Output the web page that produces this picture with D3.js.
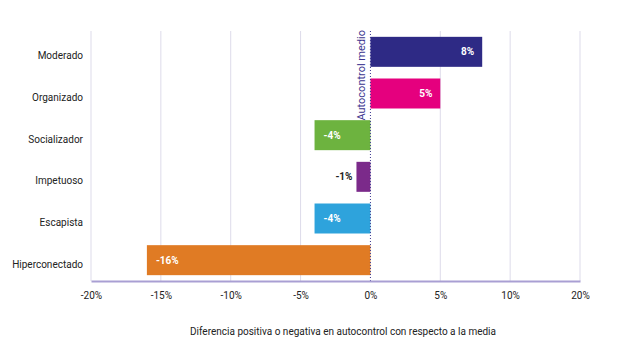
<!DOCTYPE html>
<html>
<head>
<meta charset="utf-8">
<script src="https://cdn.jsdelivr.net/npm/d3@7"></script>
<style>
  body { margin: 0; background: #fff; }
  svg { font-family: Roboto, "Liberation Sans", sans-serif; }
</style>
</head>
<body>
<div id="chart"></div>
<script>
const categories = ["Moderado", "Organizado", "Socializador", "Impetuoso", "Escapista", "Hiperconectado"];
const values = [8, 5, -4, -1, -4, -16];
const barColors = ["#2e2a85", "#e5007e", "#6db33f", "#7b2a8a", "#2ea3dc", "#e07b24"];
// tick positions and the labels printed under them (last label reads 20% in the source)
const tickValues = [-20, -15, -10, -5, 0, 5, 10, 15];
const tickLabels = ["-20%", "-15%", "-10%", "-5%", "0%", "5%", "10%", "20%"];

const width = 633;
const height = 360;

const svg = d3.select("#chart")
  .append("svg")
  .attr("width", width)
  .attr("height", height);

const x = d3.scaleLinear().domain([-20, 15]).range([91, 580]);
const y = d3.scaleBand()
  .domain(categories)
  .range([31, 281])
  .paddingInner(0.28)
  .paddingOuter(0.14);

// vertical grid lines
svg.append("g")
  .selectAll("line")
  .data(tickValues.filter((d) => d !== 0))
  .enter()
  .append("line")
  .attr("x1", (d) => x(d))
  .attr("x2", (d) => x(d))
  .attr("y1", 31)
  .attr("y2", 281)
  .attr("stroke", "#dddbea")
  .attr("stroke-width", 1);

// bars
svg.append("g")
  .selectAll("rect")
  .data(categories)
  .enter()
  .append("rect")
  .attr("x", (d, i) => x(Math.min(0, values[i])))
  .attr("y", (d) => y(d))
  .attr("width", (d, i) => Math.abs(x(values[i]) - x(0)))
  .attr("height", y.bandwidth())
  .attr("fill", (d, i) => barColors[i]);

// value labels
svg.append("g")
  .selectAll("text")
  .data(categories)
  .enter()
  .append("text")
  .attr("x", (d, i) => {
    const v = values[i];
    if (v > 0) return x(v) - 8;
    if (Math.abs(x(v) - x(0)) < 30) return x(v) - 4;
    return x(v) + 9;
  })
  .attr("y", (d) => y(d) + y.bandwidth() / 2)
  .attr("dy", "0.35em")
  .attr("text-anchor", (d, i) => {
    const v = values[i];
    if (v > 0) return "end";
    if (Math.abs(x(v) - x(0)) < 30) return "end";
    return "start";
  })
  .attr("fill", (d, i) => Math.abs(x(values[i]) - x(0)) < 30 ? "#222" : "#fff")
  .style("font-size", "10px")
  .style("font-weight", "bold")
  .text((d, i) => `${values[i]}%`);

// category labels (sit a little below the bar centre in the source)
svg.append("g")
  .selectAll("text")
  .data(categories)
  .enter()
  .append("text")
  .attr("x", 83)
  .attr("y", (d) => y(d) + y.bandwidth() / 2 + 4)
  .attr("dy", "0.35em")
  .attr("text-anchor", "end")
  .attr("fill", "#222")
  .style("font-size", "10px")
  .text((d) => d);

// dotted zero line
svg.append("line")
  .attr("x1", x(0))
  .attr("x2", x(0))
  .attr("y1", 31)
  .attr("y2", 281)
  .attr("stroke", "#3b3590")
  .attr("stroke-width", 1)
  .attr("stroke-dasharray", "1,2");

svg.append("text")
  .attr("transform", `translate(${x(0) - 5}, 30) rotate(-90)`)
  .attr("text-anchor", "end")
  .attr("fill", "#3b3590")
  .style("font-size", "11px")
  .text("Autocontrol medio");

// x axis
const xAxis = d3.axisBottom(x)
  .tickValues(tickValues)
  .tickSize(0)
  .tickPadding(11)
  .tickFormat((d, i) => tickLabels[i]);

const axisG = svg.append("g")
  .attr("transform", "translate(0, 281)")
  .call(xAxis);

axisG.select(".domain")
  .attr("stroke", "#a99fd3")
  .attr("stroke-width", 2);

axisG.selectAll("text")
  .attr("fill", "#222")
  .style("font-size", "10px")
  .style("font-family", "Roboto, sans-serif");

svg.append("text")
  .attr("x", 343)
  .attr("y", 335)
  .attr("text-anchor", "middle")
  .attr("fill", "#222")
  .style("font-size", "10px")
  .text("Diferencia positiva o negativa en autocontrol con respecto a la media");
</script>
</body>
</html>
